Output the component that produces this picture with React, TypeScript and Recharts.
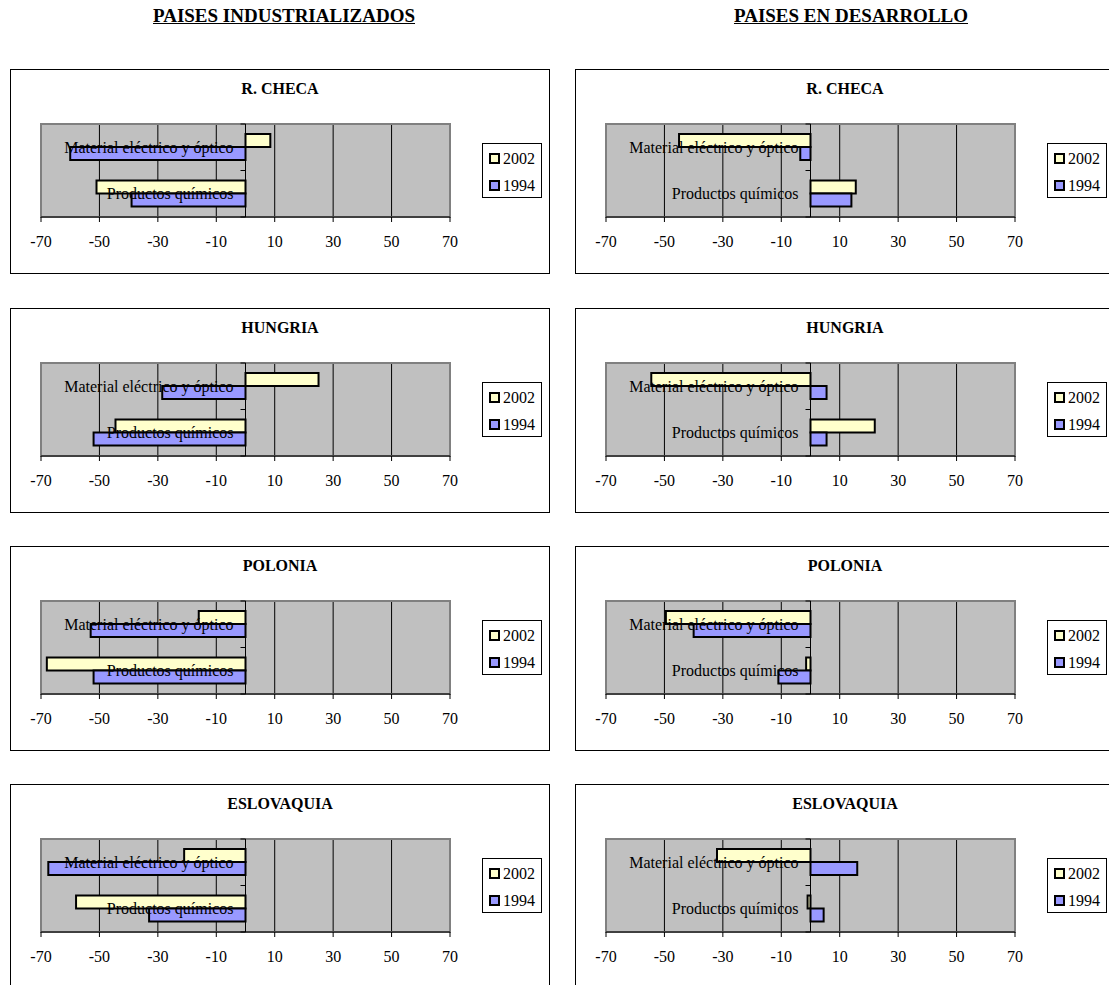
import React from 'react';
import {
  BarChart,
  Bar,
  XAxis,
  YAxis,
  CartesianGrid,
  ReferenceArea,
  ReferenceLine,
  Legend
} from 'recharts';

const FONT = '"Liberation Serif", "Times New Roman", serif';

// Shared categories, series and axis ticks
const CATEGORIES = ['Material eléctrico y óptico', 'Productos químicos'];
const YEARS = ['2002', '1994'];
const YEAR_COLORS = ['#FFFFCC', '#9999FF'];
const X_TICKS = [-70, -50, -30, -10, 10, 30, 50, 70];
const GROUPS = ['PAISES INDUSTRIALIZADOS', 'PAISES EN DESARROLLO'];
const COUNTRIES = ['R. CHECA', 'HUNGRIA', 'POLONIA', 'ESLOVAQUIA'];

// Paises industrializados: [material eléctrico, productos químicos]
const IND_CHECA_2002 = [8.5, -51];
const IND_CHECA_1994 = [-60, -39];
const IND_HUNGRIA_2002 = [25, -44.5];
const IND_HUNGRIA_1994 = [-28.5, -52];
const IND_POLONIA_2002 = [-16, -68];
const IND_POLONIA_1994 = [-53, -52];
const IND_ESLOVAQUIA_2002 = [-21, -58];
const IND_ESLOVAQUIA_1994 = [-67.5, -33];

// Paises en desarrollo: [material eléctrico, productos químicos]
const DEV_CHECA_2002 = [-45, 15.5];
const DEV_CHECA_1994 = [-3.5, 14];
const DEV_HUNGRIA_2002 = [-54.5, 22];
const DEV_HUNGRIA_1994 = [5.5, 5.5];
const DEV_POLONIA_2002 = [-49.5, -1.5];
const DEV_POLONIA_1994 = [-40, -11];
const DEV_ESLOVAQUIA_2002 = [-32, -1];
const DEV_ESLOVAQUIA_1994 = [16, 4.5];

const IND_2002 = [IND_CHECA_2002, IND_HUNGRIA_2002, IND_POLONIA_2002, IND_ESLOVAQUIA_2002];
const IND_1994 = [IND_CHECA_1994, IND_HUNGRIA_1994, IND_POLONIA_1994, IND_ESLOVAQUIA_1994];
const DEV_2002 = [DEV_CHECA_2002, DEV_HUNGRIA_2002, DEV_POLONIA_2002, DEV_ESLOVAQUIA_2002];
const DEV_1994 = [DEV_CHECA_1994, DEV_HUNGRIA_1994, DEV_POLONIA_1994, DEV_ESLOVAQUIA_1994];

// layout
const PANEL_W = 540;
const PANEL_H = 205;
const COL_X = [10, 575];
const ROW_Y = [69, 308, 546, 784];
const HEADER_X = [284, 851];

// Category axis drawn at x = 0 (label of the zero reference line)
const CategoryAxis = (props: any) => {
  const vb = props.viewBox || {};
  const x = vb.x ?? 0;
  const top = vb.y ?? 0;
  const h = vb.height ?? 0;
  const band = h / CATEGORIES.length;
  return (
    <g>
      {[0, 1, 2].map((i) => (
        <line key={i} x1={x - 5} x2={x} y1={top + band * i} y2={top + band * i} stroke="#000" />
      ))}
      {CATEGORIES.map((c, i) => (
        <text
          key={c}
          x={x - 12}
          y={top + band * (i + 0.5) + 5.5}
          textAnchor="end"
          fontFamily={FONT}
          fontSize={16}
          fill="#000"
        >
          {c}
        </text>
      ))}
    </g>
  );
};

// 2002 listed first, as in the series order
const LegendBox = () => (
  <div
    style={{
      width: 60,
      height: 55,
      border: '1px solid #000',
      background: '#fff',
      boxSizing: 'border-box',
      paddingTop: 1,
      fontFamily: FONT,
      fontSize: 16
    }}
  >
    {YEARS.map((y, i) => (
      <div key={y} style={{ height: 27, display: 'flex', alignItems: 'center' }}>
        <span
          style={{
            display: 'inline-block',
            width: 11,
            height: 11,
            marginLeft: 6,
            marginRight: 3,
            background: YEAR_COLORS[i],
            border: '2px solid #000',
            boxSizing: 'border-box'
          }}
        />
        <span style={{ lineHeight: '16px' }}>{y}</span>
      </div>
    ))}
  </div>
);

interface PanelProps {
  title: string;
  v2002: number[];
  v1994: number[];
  left: number;
  top: number;
}

const Panel: React.FC<PanelProps> = ({ title, v2002, v1994, left, top }) => {
  const data = CATEGORIES.map((name, i) => ({ name, y2002: v2002[i], y1994: v1994[i] }));
  return (
    <div
      style={{
        position: 'absolute',
        left,
        top,
        width: PANEL_W,
        height: PANEL_H,
        border: '1px solid #000',
        boxSizing: 'border-box',
        background: '#fff'
      }}
    >
      <div style={{ position: 'absolute', left: -1, top: -1 }}>
        <BarChart
          width={PANEL_W}
          height={PANEL_H}
          data={data}
          layout="vertical"
          margin={{ top: 55, right: 100, bottom: 27, left: 31 }}
          barGap={0}
        >
          <CartesianGrid horizontal={false} vertical stroke="#000" fill="#C0C0C0" fillOpacity={1} />
          <ReferenceArea x1={-70} x2={70} fill="none" fillOpacity={0} stroke="#808080" strokeWidth={2} />
          <XAxis
            type="number"
            domain={[-70, 70]}
            ticks={X_TICKS}
            interval={0}
            allowDataOverflow
            height={30}
            tickSize={5}
            tickMargin={14}
            tick={{ fontSize: 16, fill: '#000', fontFamily: FONT }}
            tickLine={{ stroke: '#000' }}
            axisLine={{ stroke: '#000' }}
          />
          <YAxis type="category" dataKey="name" hide />
          <Bar
            dataKey="y2002"
            name={YEARS[0]}
            fill={YEAR_COLORS[0]}
            stroke="#000"
            strokeWidth={2}
            barSize={13}
            isAnimationActive={false}
          />
          <Bar
            dataKey="y1994"
            name={YEARS[1]}
            fill={YEAR_COLORS[1]}
            stroke="#000"
            strokeWidth={2}
            barSize={13}
            isAnimationActive={false}
          />
          <ReferenceLine x={0} stroke="#000" label={(p: any) => <CategoryAxis {...p} />} />
          <Legend
            layout="vertical"
            align="center"
            verticalAlign="middle"
            content={() => <LegendBox />}
            wrapperStyle={{ left: 472, top: 74, width: 60, height: 55 }}
          />
        </BarChart>
      </div>
      <div
        style={{
          position: 'absolute',
          left: 0,
          top: 10,
          width: '100%',
          textAlign: 'center',
          fontFamily: FONT,
          fontWeight: 'bold',
          fontSize: 16,
          lineHeight: '18px'
        }}
      >
        {title}
      </div>
    </div>
  );
};

export default function App() {
  const columns = [
    [IND_2002, IND_1994],
    [DEV_2002, DEV_1994]
  ];
  return (
    <div
      style={{
        position: 'absolute',
        left: 0,
        top: 0,
        width: 1109,
        height: 985,
        overflow: 'hidden',
        background: '#fff'
      }}
    >
      {GROUPS.map((g, ci) => (
        <div
          key={g}
          style={{
            position: 'absolute',
            top: 6,
            left: HEADER_X[ci] - 200,
            width: 400,
            textAlign: 'center',
            fontFamily: FONT,
            fontWeight: 'bold',
            fontSize: 19,
            lineHeight: '20px'
          }}
        >
          <span style={{ textDecoration: 'underline' }}>{g}</span>
        </div>
      ))}
      {columns.map(([s2002, s1994], ci) =>
        COUNTRIES.map((c, ri) => (
          <Panel
            key={`${ci}-${c}`}
            title={c}
            v2002={s2002[ri]}
            v1994={s1994[ri]}
            left={COL_X[ci]}
            top={ROW_Y[ri]}
          />
        ))
      )}
    </div>
  );
}
